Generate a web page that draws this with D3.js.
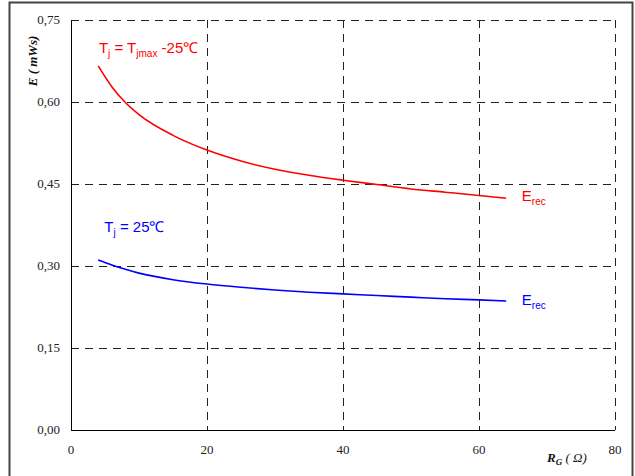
<!DOCTYPE html>
<html>
<head>
<meta charset="utf-8">
<script src="https://cdn.jsdelivr.net/npm/d3@7"></script>
<style>
  body { margin: 0; background: #fff; }
  .tick-label { font-family: 'Liberation Serif', 'Times New Roman', serif; font-size: 13px; fill: #222; }
  .axis-title { font-family: 'Liberation Serif', 'Times New Roman', serif; font-size: 13px; font-weight: bold; font-style: italic; fill: #111; }
  .curve-label { font-family: 'Liberation Sans', Arial, sans-serif; font-size: 15px; }
</style>
</head>
<body>
<div id="chart"></div>
<script>
// curve data
const rg = [4, 6, 8, 10, 15, 20, 25, 30, 35, 40, 45, 50, 55, 60, 64]
const eHot = [0.666, 0.628, 0.599, 0.577, 0.539, 0.512, 0.492, 0.477, 0.466, 0.457, 0.449, 0.441, 0.435, 0.429, 0.424]
const eCold = [0.311, 0.302, 0.294, 0.287, 0.275, 0.267, 0.261, 0.256, 0.252, 0.249, 0.246, 0.243, 0.240, 0.238, 0.236]

const xTicks = [0, 20, 40, 60, 80]
const yTicks = [0, 0.15, 0.3, 0.45, 0.6, 0.75]

const margin = { top: 20, left: 71, right: 20, bottom: 46 }
const width = 635 - margin.left - margin.right
const height = 476 - margin.top - margin.bottom

const svg = d3.select('#chart')
  .append('svg')
  .attr('width', 635)
  .attr('height', 476)

// outer frame
svg.append('rect')
  .attr('x', 9.5).attr('y', 2.5)
  .attr('width', 623).attr('height', 490)
  .attr('fill', 'none')
  .attr('stroke', '#444')
  .attr('stroke-width', 2)

const g = svg.append('g')
  .attr('transform', 'translate(' + margin.left + ',' + margin.top + ')')

const x = d3.scaleLinear().domain([0, 80]).range([0, width])
const y = d3.scaleLinear().domain([0, 0.75]).range([height, 0])

const fmt = d => d3.format('.2f')(d).replace('.', ',')

// dashed grid
g.selectAll('.vgrid')
  .data(xTicks.filter(d => d > 0))
  .enter()
  .append('line')
  .attr('x1', d => Math.round(x(d)) + 0.5)
  .attr('x2', d => Math.round(x(d)) + 0.5)
  .attr('y1', 0).attr('y2', height)
  .attr('stroke', '#222')
  .attr('stroke-dasharray', '8,6')

g.selectAll('.hgrid')
  .data(yTicks.filter(d => d > 0))
  .enter()
  .append('line')
  .attr('y1', d => Math.round(y(d)) + 0.5)
  .attr('y2', d => Math.round(y(d)) + 0.5)
  .attr('x1', 0).attr('x2', width)
  .attr('stroke', '#222')
  .attr('stroke-dasharray', '8,6')

// solid left + bottom axis lines
g.append('line')
  .attr('x1', 0.5).attr('x2', 0.5)
  .attr('y1', 0).attr('y2', height)
  .attr('stroke', '#000')
g.append('line')
  .attr('x1', 0).attr('x2', width)
  .attr('y1', height + 0.5).attr('y2', height + 0.5)
  .attr('stroke', '#000')

// tick labels
g.selectAll('.ylab')
  .data(yTicks)
  .enter()
  .append('text')
  .attr('class', 'tick-label')
  .attr('x', -11)
  .attr('y', d => y(d) + 4)
  .attr('text-anchor', 'end')
  .text(fmt)

g.selectAll('.xlab')
  .data(xTicks)
  .enter()
  .append('text')
  .attr('class', 'tick-label')
  .attr('x', d => x(d))
  .attr('y', height + 24)
  .attr('text-anchor', 'middle')
  .text(d => d)

// axis titles
const xt = g.append('text')
  .attr('class', 'axis-title')
  .attr('x', 476)
  .attr('y', height + 32)
xt.append('tspan').text('R')
xt.append('tspan').attr('font-size', '9px').attr('dy', 3).text('G')
xt.append('tspan').attr('dy', -3).attr('font-weight', 'normal').text(' ( Ω)')

g.append('text')
  .attr('class', 'axis-title')
  .attr('transform', 'translate(-34,41) rotate(-90)')
  .attr('text-anchor', 'middle')
  .text('E ( mWs)')

// curves
const line = d3.line()
  .x((d, i) => x(rg[i]))
  .y(d => y(d))
  .curve(d3.curveMonotoneX)

g.append('path')
  .datum(eHot)
  .attr('d', line)
  .attr('fill', 'none')
  .attr('stroke', '#ff0000')
  .attr('stroke-width', 1.6)

g.append('path')
  .datum(eCold)
  .attr('d', line)
  .attr('fill', 'none')
  .attr('stroke', '#0000ff')
  .attr('stroke-width', 1.6)

// curve labels
function labelE(px, py, color) {
  const t = g.append('text').attr('class', 'curve-label').attr('fill', color)
    .attr('x', px).attr('y', py)
  t.append('tspan').text('E')
  t.append('tspan').attr('font-size', '10px').attr('dy', 4).text('rec')
}
labelE(x(66.3), y(0.424) + 3, '#ff0000')
labelE(x(66.3), y(0.236) + 4, '#0000ff')

function labelT(px, py, color, sub, rest) {
  const t = g.append('text').attr('class', 'curve-label').attr('fill', color)
    .attr('x', px).attr('y', py)
  t.append('tspan').text('T')
  t.append('tspan').attr('font-size', '10px').attr('dy', 4).text('j')
  t.append('tspan').attr('dy', -4).text(' = ' + rest)
  if (sub) {
    t.append('tspan').attr('font-size', '10px').attr('dy', 4).text(sub)
    t.append('tspan').attr('dy', -4).text(' -25℃')
  }
}
labelT(x(4.1), 33, '#ff0000', 'jmax', 'T')
labelT(x(4.9), 212, '#0000ff', null, '25℃')
</script>
</body>
</html>
